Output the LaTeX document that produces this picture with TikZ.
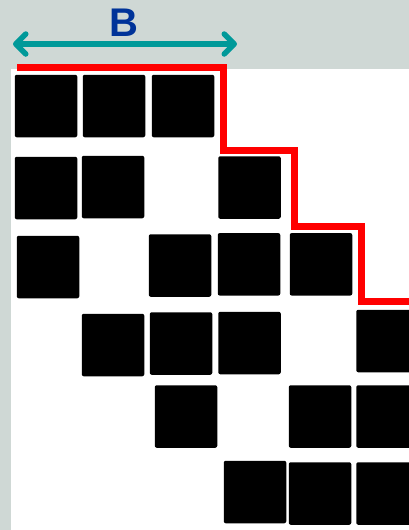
\documentclass[tikz,border=0pt]{standalone}
\usepackage{fontspec}
\setmainfont{Liberation Sans}
\usetikzlibrary{arrows.meta}
\definecolor{bggray}{RGB}{207,216,213}
\definecolor{bteal}{RGB}{0,153,153}
\definecolor{bblue}{RGB}{0,51,153}

\begin{document}
\begin{tikzpicture}[x=1pt,y=-1pt,
  cell/.style={fill=black,rounded corners=2pt,minimum size=62.5pt,inner sep=0pt},
  stair/.style={red,line width=7pt},
  bspan/.style={bteal,line width=5.5pt,{Straight Barb[length=10pt,width=20pt,round]}-{Straight Barb[length=10pt,width=20pt,round]}}]
\useasboundingbox (0,0) rectangle (409,530);
\fill[bggray] (0,0) rectangle (409,530);
\fill[white] (11,69) rectangle (409,530);
\foreach \n/\x/\y in {a1/46/106, a2/114/106, a3/183/106,
                      b1/46/188, b2/113/187, b4/249.5/187.5,
                      c1/48/267, c3/180/265.5, c4/249/264.3, c5/321/264.3,
                      d2/113/345, d3/181/343.5, d4/249.5/343, d6/387.5/341,
                      e3/186/416.5, e5/320/416.5, e6/387.5/416.5,
                      f4/255/492, f5/320/493.5, f6/387.5/493.5}
  \node[cell] (\n) at (\x,\y) {};
\draw[stair] (17,67.5) -- (223,67.5) -- (223,150) -- (294.5,150) -- (294.5,226)
  -- (361.5,226) -- (361.5,301.5) -- (409,301.5);
\coordinate (bleft) at (13,44);
\coordinate (bright) at (237,44);
\draw[bspan] (bleft) -- (bright);
\node[bblue,font=\bfseries\fontsize{40}{40}\selectfont,anchor=base,inner sep=0pt] (blabel) at (124,36.7) {B};
\end{tikzpicture}
\end{document}
